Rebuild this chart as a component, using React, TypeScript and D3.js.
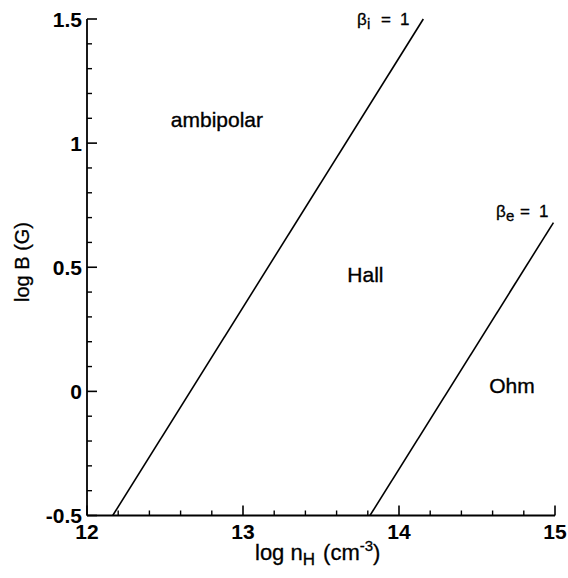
import React from "react";
import * as d3 from "d3";

const xTicks = [12, 13, 14, 15];
const yTicks = [-0.5, 0, 0.5, 1, 1.5];
const xMinorStep = 0.2;
const yMinorStep = 0.1;
const betaILine: [number, number][] = [[12.165, -0.5], [14.156, 1.5]];
const betaELine: [number, number][] = [[13.814, -0.5], [14.99, 0.68]];
const regionNames = ["ambipolar", "Hall", "Ohm"];
const regionPos: [number, number][] = [[12.833, 1.097], [13.785, 0.47], [14.724, 0.024]];

const W = 568, H = 578;
const FONT = "'Liberation Sans', Arial, Helvetica, sans-serif";

function BetaLabel({ x0, y0, sub }: { x0: number; y0: number; sub: string }) {
  return (
    <text x={x0} y={y0} fontSize={17} fill="#000" stroke="#000" strokeWidth={0.3}>
      <tspan>β</tspan>
      <tspan x={x0 + 10} dy={4} fontSize={15}>{sub}</tspan>
      <tspan x={x0 + 24} dy={-4}>=</tspan>
      <tspan x={x0 + 43}>1</tspan>
    </text>
  );
}

export default function App() {
  const x = d3.scaleLinear().domain([12, 15]).range([87, 555]);
  const y = d3.scaleLinear().domain([-0.5, 1.5]).range([515.5, 19]);
  const line = d3.line<[number, number]>().x(d => x(d[0])).y(d => y(d[1]));

  const xMinor = d3.range(12, 15.0001, xMinorStep).filter(v => !xTicks.some(t => Math.abs(t - v) < 1e-6));
  const yMinor = d3.range(-0.5, 1.5001, yMinorStep).filter(v => !yTicks.some(t => Math.abs(t - v) < 1e-6));

  return (
    <svg width={W} height={H} style={{ position: "absolute", left: 0, top: 0, background: "#fff" }} fontFamily={FONT}>
      <rect x={0} y={0} width={W} height={H} fill="#fff" />
      {/* axes */}
      <line x1={x(12)} x2={x(12)} y1={y(-0.5)} y2={y(1.5)} stroke="#000" strokeWidth={1.8} />
      <line x1={x(12)} x2={x(15)} y1={y(-0.5)} y2={y(-0.5)} stroke="#000" strokeWidth={1.8} />
      {yTicks.map(t => (
        <g key={"yt" + t}>
          <line x1={x(12)} x2={x(12) + 10} y1={y(t)} y2={y(t)} stroke="#000" strokeWidth={1.6} />
          <text x={x(12) - 5} y={y(t)} dy="0.36em" textAnchor="end" fontSize={21} fontWeight="bold" fill="#000">{t}</text>
        </g>
      ))}
      {yMinor.map(t => (
        <line key={"ym" + t} x1={x(12)} x2={x(12) + 5} y1={y(t)} y2={y(t)} stroke="#000" strokeWidth={1.4} />
      ))}
      {xTicks.map(t => (
        <g key={"xt" + t}>
          <line x1={x(t)} x2={x(t)} y1={y(-0.5)} y2={y(-0.5) - 10} stroke="#000" strokeWidth={1.6} />
          <text x={x(t)} y={539} textAnchor="middle" fontSize={21} fontWeight="bold" fill="#000">{t}</text>
        </g>
      ))}
      {xMinor.map(t => (
        <line key={"xm" + t} x1={x(t)} x2={x(t)} y1={y(-0.5)} y2={y(-0.5) - 5} stroke="#000" strokeWidth={1.4} />
      ))}
      {/* boundary lines */}
      <path d={line(betaILine) || ""} fill="none" stroke="#000" strokeWidth={1.6} />
      <path d={line(betaELine) || ""} fill="none" stroke="#000" strokeWidth={1.6} />
      {/* beta labels */}
      <BetaLabel x0={357} y0={25} sub="i" />
      <BetaLabel x0={496} y0={217} sub="e" />
      {/* region labels */}
      {regionNames.map((n, i) => (
        <text key={n} x={x(regionPos[i][0])} y={y(regionPos[i][1])} dy="0.36em" textAnchor="middle" fontSize={21} fill="#000" stroke="#000" strokeWidth={0.35}>{n}</text>
      ))}
      {/* axis titles */}
      <text x={255} y={560} fontSize={22} fill="#000" stroke="#000" strokeWidth={0.3}>
        <tspan>log n</tspan>
        <tspan dy={5} fontSize={17}>H</tspan>
        <tspan dy={-5} dx={2}> (cm</tspan>
        <tspan dy={-9} fontSize={15}>-3</tspan>
        <tspan dy={9}>)</tspan>
      </text>
      <text transform={`translate(29,${262}) rotate(-90)`} textAnchor="middle" fontSize={20} fill="#000" stroke="#000" strokeWidth={0.3}>log B (G)</text>
    </svg>
  );
}
